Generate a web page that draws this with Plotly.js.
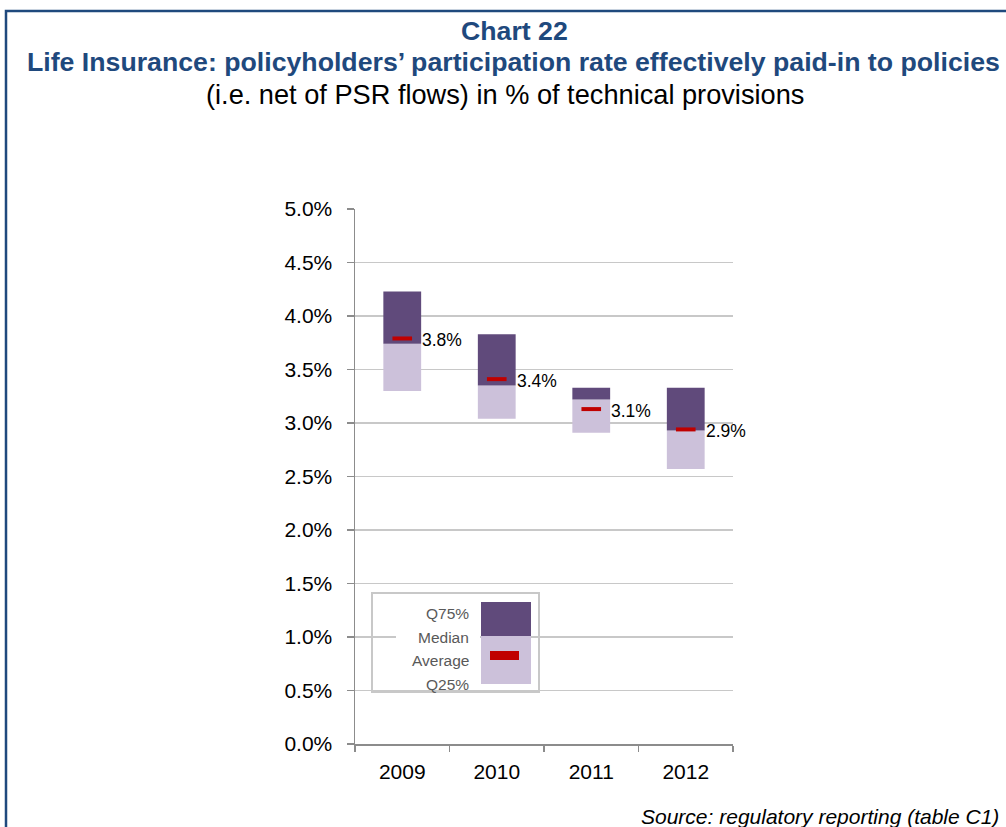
<!DOCTYPE html>
<html>
<head>
<meta charset="utf-8">
<script src="https://cdn.plot.ly/plotly-3.0.1.min.js"></script>
<style>html,body{margin:0;padding:0;background:#fff;}#chart{width:1006px;height:827px;}</style>
</head>
<body>
<div id="chart"></div>
<script>
// ---- data ----
const years = ['2009', '2010', '2011', '2012'];
const q25 = [3.30, 3.04, 2.91, 2.57];
const median = [3.74, 3.35, 3.22, 2.93];
const q75 = [4.23, 3.83, 3.33, 3.33];
const average = [3.79, 3.41, 3.13, 2.94];
const yTicks = [0, 0.5, 1, 1.5, 2, 2.5, 3, 3.5, 4, 4.5, 5];
const legendLabels = ['Q75%', 'Median', 'Average', 'Q25%'];

// ---- layout helpers (pixel -> paper) ----
const W = 1006, H = 827;
const M = {l: 355, r: 273, t: 209, b: 83};
const PW = W - M.l - M.r, PH = H - M.t - M.b;
const px = x => (x - M.l) / PW;
const py = y => (H - M.b - y) / PH;

const FONT = 'Liberation Sans, Arial, sans-serif';
const dark = '#604A7B', light = '#CCC1DA', red = '#C00000', blue = '#1F497D';

const traces = [
  {type: 'bar', x: years, y: median.map((m, i) => m - q25[i]), base: q25,
   width: 0.4, marker: {color: light}, hoverinfo: 'skip', showlegend: false},
  {type: 'bar', x: years, y: q75.map((q, i) => q - median[i]), base: median,
   width: 0.4, marker: {color: dark}, hoverinfo: 'skip', showlegend: false},
  {type: 'scatter', mode: 'markers', x: years, y: average,
   marker: {symbol: 'line-ew-open', size: 14, color: red, line: {color: red, width: 4}},
   hoverinfo: 'skip', showlegend: false}
];

const annotations = [];
years.forEach((yr, i) => {
  annotations.push({x: i, y: average[i], xref: 'x', yref: 'y', text: average[i].toFixed(1) + '%',
    showarrow: false, xanchor: 'left', yanchor: 'middle', xshift: 18, yshift: -2,
    font: {family: FONT, size: 17.5, color: '#000'}});
});
// titles
annotations.push({xref: 'paper', yref: 'paper', x: px(514), y: py(31), text: '<b>Chart 22</b>', showarrow: false,
  xanchor: 'center', yanchor: 'middle', font: {family: FONT, size: 26.7, color: blue}});
annotations.push({xref: 'paper', yref: 'paper', x: px(513), y: py(62), text: '<b>Life Insurance: policyholders’ participation rate effectively paid-in to policies</b>', showarrow: false,
  xanchor: 'center', yanchor: 'middle', font: {family: FONT, size: 26.7, color: blue}});
annotations.push({xref: 'paper', yref: 'paper', x: px(505), y: py(94), text: '(i.e. net of PSR flows) in % of technical provisions', showarrow: false,
  xanchor: 'center', yanchor: 'middle', font: {family: FONT, size: 27.2, color: '#000'}});
annotations.push({xref: 'paper', yref: 'paper', x: px(1001), y: py(816), text: '<i>Source: regulatory reporting (table C1)</i>', showarrow: false,
  xanchor: 'right', yanchor: 'middle', font: {family: FONT, size: 21, color: '#000'}});
// legend labels
const legY = [613, 637, 660, 684];
legendLabels.forEach((t, i) => {
  annotations.push({xref: 'paper', yref: 'paper', x: px(471), y: py(legY[i]), text: t, showarrow: false,
    xanchor: 'right', yanchor: 'middle', font: {family: FONT, size: 15.5, color: '#595959'}});
});

const shapes = [
  {type: 'path', xref: 'paper', yref: 'paper', layer: 'above',
   path: `M ${px(6)} ${py(840)} L ${px(6)} ${py(11)} L ${px(1010)} ${py(11)}`,
   line: {color: blue, width: 2.5}},
  {type: 'rect', xref: 'paper', yref: 'paper', layer: 'above', x0: px(396), x1: px(480), y0: py(689), y1: py(596),
   line: {width: 0}, fillcolor: '#fff'},
  {type: 'rect', xref: 'paper', yref: 'paper', layer: 'above', x0: px(372), x1: px(539), y0: py(692), y1: py(593),
   line: {color: '#C8C8C8', width: 2}, fillcolor: 'rgba(0,0,0,0)'},
  {type: 'rect', xref: 'paper', yref: 'paper', layer: 'above', x0: px(481), x1: px(531), y0: py(636), y1: py(602),
   line: {width: 0}, fillcolor: dark},
  {type: 'rect', xref: 'paper', yref: 'paper', layer: 'above', x0: px(481), x1: px(531), y0: py(684), y1: py(636),
   line: {width: 0}, fillcolor: light},
  {type: 'rect', xref: 'paper', yref: 'paper', layer: 'above', x0: px(490), x1: px(519), y0: py(660), y1: py(651),
   line: {width: 0}, fillcolor: red}
];

const layout = {
  width: W, height: H,
  margin: M,
  paper_bgcolor: '#fff', plot_bgcolor: '#fff',
  barmode: 'overlay',
  showlegend: false,
  font: {family: FONT, size: 21, color: '#000'},
  xaxis: {type: 'category', categoryorder: 'array', categoryarray: years, range: [-0.5, 3.5], autorange: false,
    showgrid: false, showline: true, linecolor: '#8C8C8C', linewidth: 1.5,
    ticks: 'outside', tickson: 'boundaries', ticklen: 6, tickcolor: '#8C8C8C', tickwidth: 1.5, tickangle: 0,
    ticklabelstandoff: 8,
    tickfont: {family: FONT, size: 21, color: '#000'}, zeroline: false, fixedrange: true},
  yaxis: {range: [0, 5], autorange: false, tickvals: yTicks, ticktext: yTicks.map(v => v.toFixed(1) + '%'),
    showgrid: true, gridcolor: '#C8C8C8', gridwidth: 1.5, showline: true, linecolor: '#8C8C8C', linewidth: 1.5,
    ticks: 'outside', ticklen: 7, tickcolor: '#8C8C8C', tickwidth: 1.5, zeroline: false,
    ticklabelstandoff: 10,
    tickfont: {family: FONT, size: 21, color: '#000'}, fixedrange: true},
  annotations: annotations,
  shapes: shapes
};

Plotly.newPlot('chart', traces, layout, {staticPlot: true});
</script>
</body>
</html>
